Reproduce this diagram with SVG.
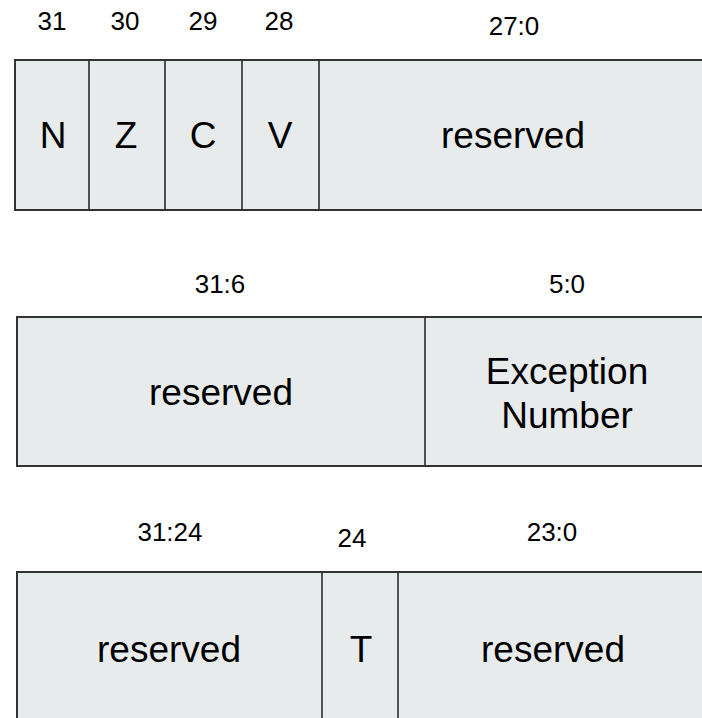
<svg xmlns="http://www.w3.org/2000/svg" width="702" height="718" viewBox="0 0 702 718">
  <style>
    .field { fill: #e8ebec; stroke: #333333; stroke-width: 2; }
    .div { stroke: #2a2a2a; stroke-width: 1.6; fill: none; }
    .bits { font-family: "Liberation Sans", Arial, sans-serif; font-size: 26px; fill: #000; text-anchor: middle; }
    .name { font-family: "Liberation Sans", Arial, sans-serif; font-size: 37px; fill: #000; text-anchor: middle; }
  </style>
  <rect width="702" height="718" fill="#ffffff"/>

  <!-- APSR: condition flags -->
  <g id="apsr">
    <rect class="field" x="15" y="60" width="700" height="150"/>
    <g id="apsr-n">
      <text class="bits" x="52" y="30">31</text>
      <text class="name" x="53" y="148">N</text>
    </g>
    <g id="apsr-z">
      <line class="div" x1="89" y1="60" x2="89" y2="210"/>
      <text class="bits" x="125" y="30">30</text>
      <text class="name" x="126" y="148">Z</text>
    </g>
    <g id="apsr-c">
      <line class="div" x1="165" y1="60" x2="165" y2="210"/>
      <text class="bits" x="203" y="30">29</text>
      <text class="name" x="203" y="148">C</text>
    </g>
    <g id="apsr-v">
      <line class="div" x1="242" y1="60" x2="242" y2="210"/>
      <text class="bits" x="279" y="30">28</text>
      <text class="name" x="280" y="148">V</text>
    </g>
    <g id="apsr-reserved">
      <line class="div" x1="319" y1="60" x2="319" y2="210"/>
      <text class="bits" x="514" y="35">27:0</text>
      <text class="name" x="513" y="148">reserved</text>
    </g>
  </g>

  <!-- IPSR: exception number -->
  <g id="ipsr">
    <rect class="field" x="17" y="317" width="700" height="149"/>
    <g id="ipsr-reserved">
      <text class="bits" x="220" y="293">31:6</text>
      <text class="name" x="221" y="405">reserved</text>
    </g>
    <g id="ipsr-exception">
      <line class="div" x1="425" y1="317" x2="425" y2="466"/>
      <text class="bits" x="567" y="293">5:0</text>
      <text class="name" x="567" y="384">Exception</text>
      <text class="name" x="567" y="428">Number</text>
    </g>
  </g>

  <!-- EPSR: thumb state bit -->
  <g id="epsr">
    <rect class="field" x="17" y="572" width="700" height="160"/>
    <g id="epsr-reserved-high">
      <text class="bits" x="170" y="541">31:24</text>
      <text class="name" x="169" y="662">reserved</text>
    </g>
    <g id="epsr-t">
      <line class="div" x1="322" y1="572" x2="322" y2="718"/>
      <text class="bits" x="352" y="547">24</text>
      <text class="name" x="361" y="662">T</text>
    </g>
    <g id="epsr-reserved-low">
      <line class="div" x1="398" y1="572" x2="398" y2="718"/>
      <text class="bits" x="552" y="541">23:0</text>
      <text class="name" x="553" y="662">reserved</text>
    </g>
  </g>
</svg>
